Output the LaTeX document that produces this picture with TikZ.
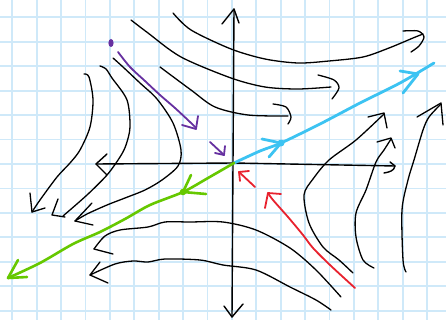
\documentclass[tikz,border=0pt]{standalone}
\usepackage{tikz}
\usetikzlibrary{calc}
\usepackage{xcolor}
\definecolor{gridblue}{HTML}{CFE9F9}
\definecolor{skycyan}{HTML}{3CC3F2}
\definecolor{leafgreen}{HTML}{66C800}
\definecolor{inkpurple}{HTML}{6630A0}
\definecolor{inkred}{HTML}{E8222E}

\begin{document}
\begin{tikzpicture}[x=1pt,y=-1pt,
    gridln/.style={draw=gridblue,line width=1.8pt},
    flow/.style={draw=black,line width=1.3pt,line cap=round,line join=round},
    axis/.style={flow,line width=1.4pt},
    cyanln/.style={draw=skycyan,line width=2.8pt,line cap=round,line join=round},
    greenln/.style={draw=leafgreen,line width=2.6pt,line cap=round,line join=round},
    purpleln/.style={draw=inkpurple,line width=1.8pt,line cap=round,line join=round},
    redln/.style={draw=inkred,line width=1.8pt,line cap=round,line join=round}]
  \fill[white] (0,0) rectangle (446,320);
  \useasboundingbox (0,0) rectangle (446,320);
  \foreach \gx in {0,...,17} \draw[gridln] ({12.3+24.4*\gx},0) -- ++(0,320);
  \foreach \gy in {0,...,12} \draw[gridln] (0,{17.3+24.45*\gy}) -- ++(446,0);

  \coordinate (orig) at (234,163);
  \coordinate (ytop) at (234,9);
  \coordinate (ybot) at (232,317);
  \coordinate (xleft) at (96,164);
  \coordinate (xright) at (395,166);

  % axes
  \draw[axis] (ytop) -- (ybot);
  \draw[axis] (222,24) -- (ytop) -- (239,23);
  \draw[axis] (224,306) -- (ybot) -- (243,304);
  \draw[axis] (xleft) -- (orig) -- (xright);
  \draw[axis] (107,154) -- (xleft) -- (107,175);
  \draw[axis] (390,162) -- (xright) to[out=-100,in=10] (384,173);

  % trajectories
  \draw[flow] plot[smooth] coordinates {(173,13) (191,30) (231,49) (265,59) (298,63) (329,61) (363,57) (389,48) (413,38) (423,34)};
  \draw[flow] plot[smooth] coordinates {(403,31) (418,31) (424,37) (419,46) (411,52)};
  \draw[flow] plot[smooth] coordinates {(131,20) (148,33) (181,57) (231,78) (265,87) (298,89) (331,87)};
  \draw[flow] plot[smooth] coordinates {(318,75) (334,80) (339,88) (332,99)};
  \draw[flow] plot[smooth] coordinates {(160,67) (191,90) (215,107) (248,115) (288,116)};
  \draw[flow] plot[smooth] coordinates {(273,104) (286,107) (291,117) (288,124)};

  \draw[flow] plot[smooth] coordinates {(84,74) (89,77) (93,100) (90,127) (80,150) (70,163) (57,177) (40,200) (32,212)};
  \draw[flow] (30,193) -- (32,212) -- (45,208);
  \draw[flow] plot[smooth] coordinates {(100,66) (106,69) (112,78) (127,100) (130,127) (126,145) (120,157) (107,175) (87,195) (63,216)};
  \draw[flow] (58,199) -- (52,215) -- (65,217);
  \draw[flow] plot[smooth] coordinates {(113,58) (123,67) (140,83) (157,99) (173,123) (181,150) (178,166) (162,180) (145,190) (125,198) (107,205) (87,214) (75,221)};
  \draw[flow] (92,203) -- (75,221) -- (93,225);

  \draw[flow] plot[smooth] coordinates {(341,297) (316,270) (290,248) (256,230) (223,222) (190,222) (165,222) (148,227) (120,230) (105,236) (94,249)};
  \draw[flow] (94,249) -- (113,254);
  \draw[flow] plot[smooth] coordinates {(331,310) (316,300) (290,287) (256,270) (223,265) (200,260) (165,259) (148,262) (133,261) (115,264) (90,275)};
  \draw[flow] (100,262) -- (90,275) -- (108,283);

  \draw[flow] plot[smooth] coordinates {(353,273) (339,260) (323,247) (309,223) (304,195) (313,179) (329,160) (356,140) (384,114)};
  \draw[flow] (368,117) -- (384,113) -- (387,128);
  \draw[flow] plot[smooth] coordinates {(374,268) (363,260) (356,237) (356,213) (366,190) (376,162) (384,150) (391,139)};
  \draw[flow] (377,142) -- (391,138) -- (395,148);
  \draw[flow] plot[smooth] coordinates {(406,272) (403,260) (402,210) (408,180) (414,160) (423,130) (429,117) (441,104)};
  \draw[flow] (417,117) -- (441,103) -- (443,125);

  % eigen-directions
  \draw[cyanln] plot[smooth] coordinates {(orig) (260,151) (281,143) (320,124) (360,103) (400,83) (434,63)};
  \fill[skycyan] (281,143) circle (3.5);
  \draw[cyanln] (262,139) -- (281,143) -- (269,157);
  \draw[cyanln] (400,71) -- (418,74) -- (403,93);
  \draw[greenln] plot[smooth] coordinates {(orig) (208,178) (183,192) (150,205) (125,219) (100,232) (73,244) (40,263) (8,278)};
  \fill[leafgreen] (183,192) circle (3.3);
  \draw[greenln] (191,175) -- (183,192) -- (206,194);
  \draw[greenln] (18,260) -- (8,278) -- (27,277);

  \fill[inkpurple] (111,43) ellipse (2.6 and 4);
  \draw[purpleln] plot[smooth] coordinates {(118,52) (130,67) (145,81) (160,95) (175,108) (190,122) (196,128)};
  \draw[purpleln] (182,125) -- (196,129) -- (198,116);
  \draw[purpleln] (210,142) -- (224,155);
  \draw[purpleln] (215,153) -- (224,155) -- (225,146);

  \draw[redln] (255,187) -- (239,172);
  \draw[redln] (240,181) -- (239,172) -- (249,171);
  \draw[redln] plot[smooth] coordinates {(355,288) (330,265) (313,248) (303,235) (288,217) (273,200) (268,193)};
  \draw[redln] (265,208) -- (268,193) -- (281,194);
\end{tikzpicture}
\end{document}
